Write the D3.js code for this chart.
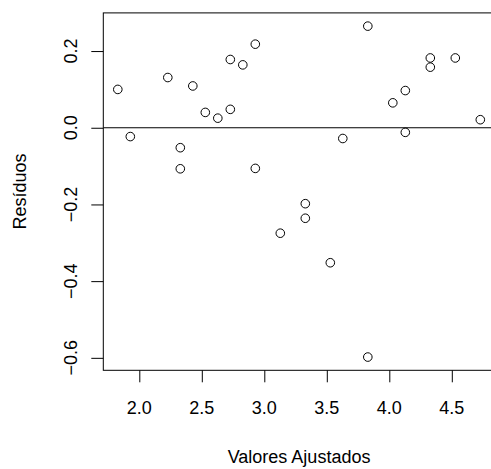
<!DOCTYPE html>
<html>
<head>
<meta charset="utf-8">
<script src="https://cdn.jsdelivr.net/npm/d3@7"></script>
<style>
  body { margin: 0; background: #fff; }
  text { font-family: "Liberation Sans", Arial, Helvetica, sans-serif; font-size: 18px; fill: #000; }
</style>
</head>
<body>
<script>
const width = 491;
const height = 469;

// fitted values and residuals
const fitted = [1.828, 1.928, 2.228, 2.328, 2.328, 2.428, 2.528, 2.628, 2.728, 2.728,
  2.828, 2.928, 2.928, 3.128, 3.328, 3.328, 3.528, 3.628, 3.828, 3.828,
  4.028, 4.128, 4.128, 4.328, 4.328, 4.528, 4.728];
const residuals = [0.100, -0.023, 0.131, -0.052, -0.107, 0.109, 0.040, 0.025, 0.178, 0.048,
  0.164, 0.218, -0.106, -0.275, -0.198, -0.236, -0.352, -0.028, 0.265, -0.598,
  0.065, 0.097, -0.012, 0.182, 0.158, 0.182, 0.021];
const xTicks = [2.0, 2.5, 3.0, 3.5, 4.0, 4.5];
const yTicks = [-0.6, -0.4, -0.2, 0.0, 0.2];
const xLabel = "Valores Ajustados";
const yLabel = "Resíduos";

// plot region (the right side runs past the window, as in the reference)
const plotLeft = 103.3, plotTop = 12.9, plotBottom = 370.3;

// R style 4% padding on each side
function pad(ext) {
  const r = ext[1] - ext[0];
  return [ext[0] - 0.04 * r, ext[1] + 0.04 * r];
}
const xlim = pad(d3.extent(fitted));
const ylim = pad(d3.extent(residuals));
const plotRight = plotLeft + (xlim[1] - xlim[0]) * 125;

const x = d3.scaleLinear().domain(xlim).range([plotLeft, plotRight]);
const y = d3.scaleLinear().domain(ylim).range([plotBottom, plotTop]);

const svg = d3.select('body').append('svg').attr('width', width).attr('height', height);

svg.append('defs').append('clipPath').attr('id', 'plotclip')
  .append('rect').attr('x', plotLeft).attr('y', plotTop)
  .attr('width', plotRight - plotLeft).attr('height', plotBottom - plotTop);

const fmt = d3.format('.1f');

// x axis
const xAxis = svg.append('g').attr('transform', `translate(0,${plotBottom})`)
  .call(d3.axisBottom(x).tickValues(xTicks).tickSize(12).tickFormat(fmt));
xAxis.select('.domain').remove();
xAxis.selectAll('line').attr('stroke', '#000');
xAxis.selectAll('text').remove();
svg.selectAll('text.xtick')
  .data(xTicks)
  .enter()
  .append('text')
  .attr('class', 'xtick')
  .attr('x', d => x(d))
  .attr('y', 414)
  .attr('text-anchor', 'middle')
  .text(d => fmt(d));

// y axis
const yAxis = svg.append('g').attr('transform', `translate(${plotLeft},0)`)
  .call(d3.axisLeft(y).tickValues(yTicks).tickSize(12).tickFormat(fmt));
yAxis.select('.domain').remove();
yAxis.selectAll('line').attr('stroke', '#000');
yAxis.selectAll('text').remove();
svg.selectAll('text.ytick')
  .data(yTicks)
  .enter()
  .append('text')
  .attr('class', 'ytick')
  .attr('transform', d => `translate(77,${y(d)}) rotate(-90)`)
  .attr('text-anchor', 'middle')
  .text(d => fmt(d));

// box
svg.append('rect')
  .attr('x', plotLeft).attr('y', plotTop)
  .attr('width', plotRight - plotLeft).attr('height', plotBottom - plotTop)
  .style('fill', 'none')
  .style('stroke', '#000')
  .style('stroke-width', 1);

// reference line at zero
svg.append('line')
  .attr('clip-path', 'url(#plotclip)')
  .attr('x1', plotLeft).attr('x2', plotRight)
  .attr('y1', y(0)).attr('y2', y(0))
  .style('stroke', '#000')
  .style('stroke-width', 1);

// points
svg.selectAll('circle.pt')
  .data(fitted.map((f, i) => ({ f: f, r: residuals[i] })))
  .enter()
  .append('circle')
  .attr('class', 'pt')
  .attr('cx', d => x(d.f))
  .attr('cy', d => y(d.r))
  .attr('r', 4.3)
  .style('fill', 'none')
  .style('stroke', '#000')
  .style('stroke-width', 1);

// axis titles
svg.append('text')
  .attr('x', (plotLeft + plotRight) / 2)
  .attr('y', 463)
  .attr('text-anchor', 'middle')
  .text(xLabel);

svg.append('text')
  .attr('transform', `translate(26,${(plotTop + plotBottom) / 2}) rotate(-90)`)
  .attr('text-anchor', 'middle')
  .text(yLabel);
</script>
</body>
</html>
